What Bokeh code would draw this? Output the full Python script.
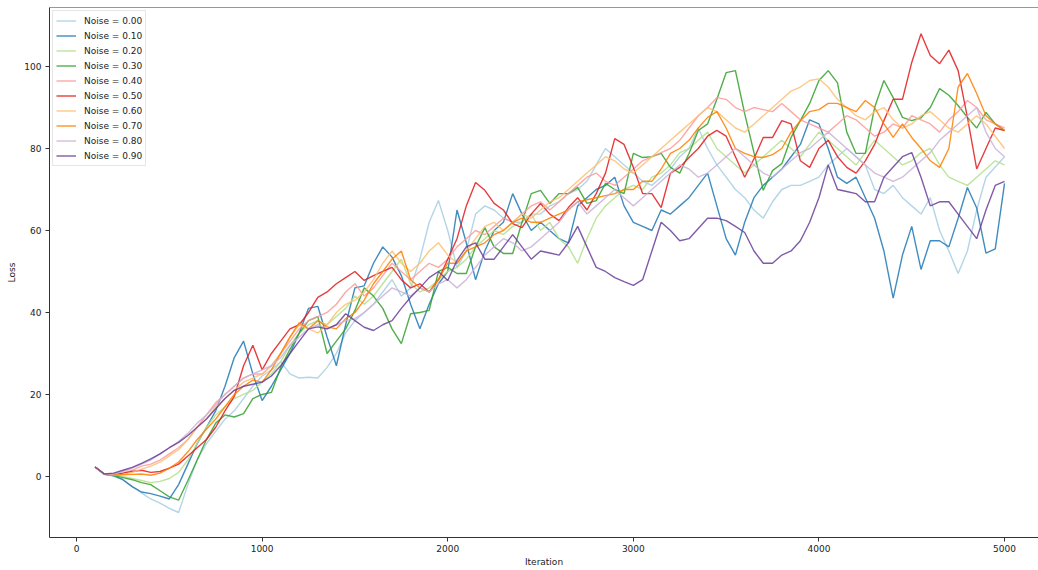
from bokeh.plotting import figure
from bokeh.models import Range1d, FixedTicker, Legend, LegendItem, Span
from bokeh.embed import file_html
from bokeh.resources import INLINE

iterations = list(range(100, 5001, 50))

noise_labels = ["Noise = 0.00", "Noise = 0.10", "Noise = 0.20", "Noise = 0.30", "Noise = 0.40",
                "Noise = 0.50", "Noise = 0.60", "Noise = 0.70", "Noise = 0.80", "Noise = 0.90"]
colors = ["#a6cee3", "#1f78b4", "#b2df8a", "#33a02c", "#fb9a99",
          "#e31a1c", "#fdbf6f", "#ff7f00", "#cab2d6", "#6a3d9a"]

loss_000 = [2.3, 0.5, 0.0, -0.8, -2.5, -4.0, -5.5, -6.5, -7.8, -8.8,
            -2.0, 4.0, 8.0, 11.0, 14.0, 16.0, 19.0, 22.0, 24.5, 26.0,
            28.0, 25.0, 24.0, 24.2, 24.0, 26.6, 30.0, 35.0, 38.0, 40.0,
            42.0, 45.0, 48.0, 44.0, 46.0, 53.0, 62.0, 67.3, 60.0, 51.0,
            55.0, 64.0, 66.0, 65.0, 63.0, 62.0, 62.0, 64.0, 64.0, 66.0,
            67.0, 69.0, 70.0, 72.0, 76.0, 80.0, 78.0, 76.0, 74.0, 72.0,
            71.0, 73.0, 75.0, 78.0, 80.0, 85.0, 80.0, 76.0, 73.0, 70.0,
            68.0, 65.0, 63.0, 67.0, 70.0, 71.0, 71.0, 72.0, 73.0, 76.0,
            78.0, 80.0, 78.0, 76.0, 70.0, 69.0, 71.0, 68.0, 66.0, 64.0,
            68.0, 60.0, 55.0, 49.5, 55.0, 65.0, 73.0, 75.5, 78.0]

loss_010 = [2.3, 0.6, 0.2, -0.8, -2.5, -3.8, -4.2, -4.8, -5.5, -2.0,
            3.0, 8.0, 12.0, 16.0, 22.0, 29.0, 33.0, 25.0, 18.5, 22.0,
            26.0, 30.0, 35.0, 41.0, 41.5, 34.0, 27.0, 37.0, 46.0, 46.5,
            52.0, 56.0, 53.5, 49.0, 42.0, 36.0, 42.0, 47.0, 50.0, 65.0,
            57.0, 48.0, 55.0, 60.0, 62.0, 69.0, 64.0, 60.0, 62.0, 60.0,
            58.0, 57.0, 66.0, 68.0, 70.0, 71.0, 73.0, 66.0, 62.0, 61.0,
            60.0, 65.0, 64.0, 66.0, 68.0, 71.0, 74.0, 66.0, 58.0, 54.0,
            62.0, 68.0, 71.0, 73.0, 75.0, 78.0, 81.0, 87.0, 86.0, 80.0,
            73.0, 71.5, 73.0, 68.0, 63.0, 55.0, 43.5, 54.0, 61.0, 50.5,
            57.5, 57.5, 56.0, 63.0, 70.5, 65.5, 54.5, 55.5, 71.5]

loss_020 = [2.3, 0.5, 0.2, 0.0, -0.5, -1.0, -1.5, -1.2, -0.5, 1.0,
            4.0, 8.0, 12.0, 15.0, 17.0, 19.0, 20.0, 21.0, 23.0, 25.0,
            28.0, 32.0, 35.0, 37.0, 38.0, 37.0, 39.0, 41.0, 44.0, 42.0,
            44.0, 47.0, 50.0, 53.0, 47.0, 45.0, 46.0, 48.0, 50.0, 51.0,
            53.0, 56.0, 58.0, 60.0, 59.0, 61.0, 62.0, 64.0, 60.0, 62.0,
            58.0, 56.0, 52.0, 58.0, 63.0, 66.0, 68.0, 70.0, 71.0, 70.0,
            73.0, 74.0, 76.0, 79.0, 80.0, 82.0, 84.0, 80.0, 78.0, 76.0,
            74.0, 76.0, 78.0, 80.0, 82.0, 80.0, 78.0, 81.0, 84.0, 82.0,
            80.0, 78.0, 76.0, 79.0, 82.0, 80.0, 78.0, 76.0, 77.0, 79.0,
            80.0, 76.0, 73.0, 72.0, 71.0, 73.0, 75.0, 77.0, 76.0]

loss_030 = [2.3, 0.5, 0.2, -0.3, -0.8, -1.5, -2.0, -3.5, -5.0, -5.8,
            -1.0, 4.0, 9.0, 13.0, 15.0, 14.5, 15.3, 19.0, 20.0, 20.5,
            26.6, 31.0, 35.0, 38.0, 39.0, 30.0, 33.0, 36.0, 40.5, 46.0,
            44.0, 41.0, 36.0, 32.4, 39.7, 40.0, 40.5, 50.0, 51.0, 49.5,
            49.5, 56.0, 60.7, 56.0, 54.4, 54.4, 62.0, 69.0, 69.8, 66.6,
            69.0, 69.0, 70.5, 66.6, 67.3, 71.5, 70.0, 69.0, 78.8, 77.8,
            78.0, 78.8, 75.4, 74.0, 78.8, 84.4, 86.0, 92.0, 98.5, 99.0,
            88.5, 79.0, 69.8, 74.6, 76.3, 82.7, 86.8, 91.0, 96.6, 99.0,
            96.0, 84.0, 78.8, 78.8, 90.0, 96.6, 92.4, 87.6, 86.8, 87.5,
            90.0, 94.6, 93.0, 90.5, 87.6, 85.0, 88.8, 86.0, 84.4]

loss_040 = [2.3, 0.6, 0.4, 0.8, 1.5, 2.5, 3.0, 4.0, 5.5, 7.0,
            9.0, 12.0, 15.0, 18.0, 20.0, 22.0, 24.0, 25.0, 25.0, 27.0,
            30.0, 33.0, 36.0, 38.0, 39.0, 40.0, 42.0, 45.0, 47.0, 44.0,
            46.0, 49.0, 52.0, 50.0, 48.0, 50.0, 52.0, 51.0, 53.0, 56.0,
            58.0, 60.0, 59.0, 61.0, 63.0, 62.0, 64.0, 66.0, 67.0, 65.0,
            67.0, 69.0, 71.0, 73.0, 74.0, 72.0, 71.0, 73.0, 75.0, 77.0,
            78.0, 79.0, 80.0, 82.0, 85.0, 88.0, 90.0, 92.4, 92.0, 90.0,
            89.0, 90.0, 89.5, 89.0, 91.0, 89.0, 87.0, 86.0, 85.0, 84.0,
            86.0, 88.0, 87.0, 85.0, 83.0, 84.0, 86.0, 85.0, 88.0, 87.0,
            86.0, 84.0, 87.0, 89.0, 91.7, 90.0, 87.0, 86.0, 85.0]

loss_050 = [2.3, 0.6, 0.5, 0.8, 1.2, 1.5, 1.0, 1.2, 2.0, 3.0,
            5.0, 7.0, 9.0, 12.0, 16.0, 19.5, 27.0, 32.0, 26.0, 30.0,
            33.0, 36.0, 37.0, 40.0, 43.7, 45.0, 47.0, 48.5, 50.0, 47.8,
            49.0, 50.0, 51.0, 48.0, 46.0, 47.0, 45.0, 48.0, 53.0, 58.0,
            66.0, 71.7, 69.8, 66.6, 65.0, 61.7, 60.7, 64.0, 66.6, 64.0,
            62.4, 65.6, 68.0, 65.0, 69.0, 74.0, 82.4, 81.0, 75.4, 69.0,
            69.0, 65.6, 74.0, 75.4, 77.8, 80.0, 83.0, 84.4, 83.0, 78.0,
            73.0, 77.5, 82.7, 82.7, 86.8, 86.0, 77.0, 75.4, 80.0, 82.0,
            78.0, 75.4, 74.0, 77.0, 81.0, 86.8, 92.0, 92.0, 101.0, 108.0,
            102.7, 100.7, 104.0, 99.0, 87.6, 75.0, 80.0, 85.0, 84.4]

loss_060 = [2.3, 0.6, 0.3, 0.5, 1.0, 1.8, 2.5, 3.5, 5.0, 6.5,
            9.0, 12.0, 14.0, 17.0, 19.0, 21.0, 23.0, 24.0, 25.0, 27.0,
            30.0, 34.0, 37.0, 36.0, 35.0, 37.0, 40.0, 42.0, 43.0, 45.0,
            48.0, 52.0, 55.0, 52.0, 50.0, 52.0, 55.0, 57.0, 54.0, 52.0,
            55.0, 58.0, 61.0, 62.0, 60.0, 62.0, 64.0, 63.0, 65.0, 67.0,
            68.0, 70.0, 72.0, 74.0, 76.0, 78.0, 77.0, 75.0, 74.0, 76.0,
            78.0, 80.0, 82.0, 84.0, 86.0, 88.0, 90.0, 89.0, 87.0, 85.0,
            84.0, 86.0, 88.0, 90.0, 92.0, 94.0, 95.0, 96.6, 97.0, 95.0,
            92.0, 90.0, 88.0, 87.0, 89.0, 90.0, 87.0, 85.0, 86.0, 88.0,
            89.0, 87.0, 85.0, 84.0, 86.0, 88.0, 86.0, 83.0, 80.0]

loss_070 = [2.3, 0.6, 0.3, 0.4, 0.5, 0.6, 0.3, 0.8, 2.0, 3.5,
            6.0, 9.0, 11.5, 14.0, 17.0, 20.0, 22.0, 23.5, 23.0, 26.0,
            30.0, 34.0, 37.5, 36.0, 38.0, 36.5, 36.0, 38.5, 40.0, 43.0,
            47.0, 50.0, 53.0, 55.0, 48.0, 46.0, 45.0, 48.0, 52.0, 52.0,
            55.0, 56.0, 57.0, 59.0, 60.0, 62.0, 63.0, 62.0, 62.0, 63.0,
            64.0, 65.0, 67.0, 67.5, 68.0, 68.5, 69.0, 70.0, 70.0, 72.0,
            72.0, 75.0, 78.8, 80.0, 82.0, 85.0, 87.6, 89.0, 85.0, 80.0,
            78.8, 78.0, 77.8, 78.5, 80.0, 84.0, 86.8, 89.0, 89.5, 91.0,
            91.0, 90.0, 89.0, 91.7, 90.0, 86.0, 82.7, 86.0, 82.7, 80.0,
            77.0, 75.4, 80.0, 95.0, 98.3, 93.4, 88.0, 86.0, 84.4]

loss_080 = [2.3, 0.6, 0.6, 1.2, 2.0, 3.0, 4.0, 5.5, 7.0, 8.5,
            10.5, 13.0, 15.0, 17.5, 20.0, 22.0, 24.0, 25.0, 26.0, 27.0,
            29.0, 32.0, 34.0, 36.0, 37.0, 36.0, 37.0, 38.0, 38.5, 40.0,
            42.0, 44.0, 46.0, 45.0, 44.0, 46.0, 45.0, 47.0, 48.0, 46.0,
            48.0, 51.0, 54.0, 56.0, 58.0, 57.0, 55.0, 56.0, 58.0, 60.0,
            62.0, 65.0, 67.0, 64.0, 66.0, 68.0, 70.0, 68.0, 66.0, 68.0,
            70.0, 72.0, 74.0, 76.0, 75.0, 73.0, 74.0, 76.0, 78.0, 80.0,
            78.0, 76.0, 74.0, 73.0, 75.0, 77.0, 79.0, 80.0, 82.0, 84.0,
            82.0, 80.0, 78.0, 76.0, 74.0, 73.0, 72.0, 73.0, 75.0, 77.0,
            79.0, 82.0, 84.0, 86.0, 88.0, 90.0, 84.0, 80.0, 78.0]

loss_090 = [2.3, 0.6, 0.8, 1.5, 2.2, 3.2, 4.3, 5.5, 7.0, 8.3,
            10.0, 12.0, 14.0, 16.5, 19.0, 21.0, 22.0, 22.5, 23.0, 24.5,
            27.0, 30.0, 33.0, 36.0, 36.5, 36.0, 37.0, 39.7, 38.0, 36.4,
            35.6, 37.0, 38.0, 41.0, 43.7, 46.0, 48.5, 50.0, 47.8, 52.7,
            56.0, 57.0, 53.0, 53.0, 56.0, 59.0, 56.0, 53.0, 55.0, 54.5,
            54.0, 57.0, 61.0, 56.0, 51.0, 50.0, 48.5, 47.5, 46.6, 48.0,
            55.0, 62.0, 60.0, 57.5, 58.0, 60.5, 63.0, 63.0, 62.4, 61.0,
            59.5, 55.0, 52.0, 52.0, 54.0, 55.0, 57.5, 62.0, 68.0, 76.0,
            70.0, 69.5, 69.0, 67.0, 67.0, 73.0, 75.5, 78.0, 79.0, 73.0,
            66.0, 67.0, 67.0, 64.0, 61.0, 58.0, 65.0, 71.0, 72.0]

series = [loss_000, loss_010, loss_020, loss_030, loss_040,
          loss_050, loss_060, loss_070, loss_080, loss_090]
for s in series:
    if len(s) != len(iterations):
        raise ValueError("length mismatch %d" % len(s))

x_ticks = [0, 1000, 2000, 3000, 4000, 5000]
y_ticks = [0, 20, 40, 60, 80, 100]
y_start, y_end = -14.9, 114.4

p = figure(width=1038, height=570, output_backend="svg", toolbar_location=None,
           x_range=Range1d(-145.6, 5183), y_range=Range1d(y_start, y_end),
           min_border_left=49, min_border_right=0, min_border_top=7, min_border_bottom=33,
           background_fill_color="white", border_fill_color="white")

p.xgrid.visible = False
p.ygrid.visible = False
p.outline_line_color = None

for ax in (p.xaxis[0], p.yaxis[0]):
    ax.axis_line_color = "#333333"
    ax.major_tick_line_color = "#333333"
    ax.minor_tick_line_color = None
    ax.major_tick_out = 4
    ax.major_tick_in = 0
    ax.major_label_text_font = "DejaVu Sans"
    ax.major_label_text_font_size = "9px"
    ax.major_label_text_color = "#222222"
    ax.axis_label_text_font = "DejaVu Sans"
    ax.axis_label_text_font_size = "9px"
    ax.axis_label_text_font_style = "normal"
    ax.axis_label_text_color = "#222222"

p.xaxis.ticker = FixedTicker(ticks=x_ticks)
p.yaxis.ticker = FixedTicker(ticks=y_ticks)
p.xaxis.axis_label = "Iteration"
p.yaxis.axis_label = "Loss"
p.xaxis.major_label_standoff = 3
p.xaxis.axis_label_standoff = 2
p.yaxis.major_label_standoff = 4
p.yaxis.axis_label_standoff = 4

# top spine (the right spine lies outside the cropped reference picture)
p.add_layout(Span(location=y_end, dimension="width", line_color="#333333", line_width=1))

items = []
for lab, col, ys in zip(noise_labels, colors, series):
    r = p.line(iterations, ys, line_color=col, line_width=1.4, line_alpha=0.85)
    items.append(LegendItem(label=lab, renderers=[r]))

legend = Legend(items=items, location="top_left", margin=3, padding=3, spacing=2,
                glyph_height=13, glyph_width=20, label_height=13, label_standoff=8,
                label_text_font="DejaVu Sans", label_text_font_size="9px",
                label_text_color="#222222", border_line_color="#cccccc",
                border_line_width=1, background_fill_color="white",
                background_fill_alpha=0.85)
p.add_layout(legend)

open("out.html", "w").write(file_html(p, INLINE))
